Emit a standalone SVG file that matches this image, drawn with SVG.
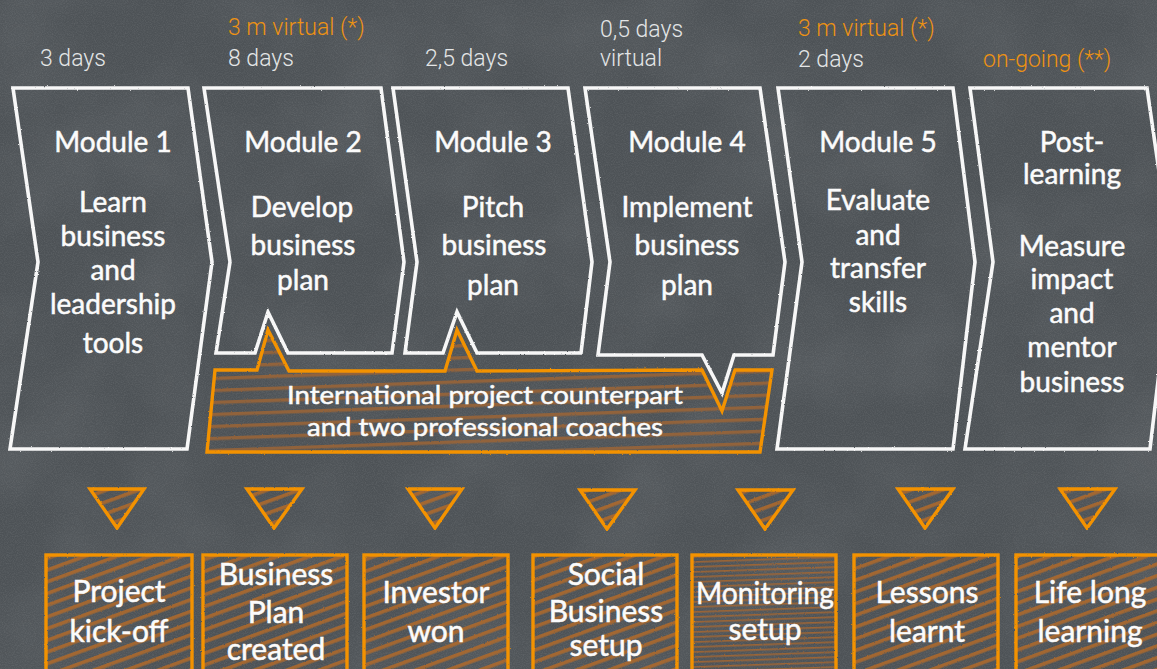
<svg xmlns="http://www.w3.org/2000/svg" width="1157" height="669" viewBox="0 0 1157 669">
<defs>
<style>
.chalk{fill:none;stroke:#f7f7f7;stroke-width:3.6;stroke-linejoin:miter;filter:url(#rough)}
.orng{stroke:#f39200;stroke-width:3.4;stroke-linejoin:miter;filter:url(#rough)}
.mt{font-family:Lato,"Noto Sans",sans-serif;font-size:28px;fill:#fbfbfb;stroke:#fbfbfb;stroke-width:0.5;text-anchor:middle}
.bt{font-family:Lato,"Noto Sans",sans-serif;font-size:30px;fill:#fbfbfb;stroke:#fbfbfb;stroke-width:0.5;text-anchor:middle}
.ct{font-family:Lato,"Noto Sans",sans-serif;font-size:25px;fill:#fbfbfb;stroke:#fbfbfb;stroke-width:0.5;text-anchor:middle}
.lbl{font-family:Roboto,"Liberation Sans",sans-serif;font-size:23px;font-weight:300;fill:#e4e6e7}
.lblo{font-family:Roboto,"Liberation Sans",sans-serif;font-size:23px;font-weight:300;fill:#ee9212}
</style>
<filter id="rough" x="-5%" y="-5%" width="110%" height="110%">
<feTurbulence type="fractalNoise" baseFrequency="0.7" numOctaves="1" seed="4" result="t"/>
<feDisplacementMap in="SourceGraphic" in2="t" scale="2.2" xChannelSelector="R" yChannelSelector="G"/>
</filter>
<filter id="grain" x="0" y="0" width="100%" height="100%">
<feTurbulence type="fractalNoise" baseFrequency="0.9" numOctaves="2" seed="7" result="n"/>
<feColorMatrix in="n" type="matrix" values="0 0 0 0 1  0 0 0 0 1  0 0 0 0 1  0.16 0 0 0 -0.06"/>
</filter>
<filter id="blotch" x="0" y="0" width="100%" height="100%">
<feTurbulence type="fractalNoise" baseFrequency="0.01" numOctaves="3" seed="11" result="b"/>
<feColorMatrix in="b" type="matrix" values="0 0 0 0 0.8  0 0 0 0 0.82  0 0 0 0 0.84  0.12 0 0 0 -0.045"/>
</filter>
<pattern id="diag" width="12" height="11" patternUnits="userSpaceOnUse" patternTransform="rotate(-20)">
<rect x="0" y="0" width="12" height="3.6" fill="#b06a2a" opacity="0.85"/>
</pattern>
<pattern id="horiz" width="20" height="12" patternUnits="userSpaceOnUse" patternTransform="rotate(-2)">
<rect x="0" y="0" width="20" height="3.4" fill="#9c6435" opacity="0.85"/>
</pattern>
<pattern id="fine" width="20" height="5" patternUnits="userSpaceOnUse" patternTransform="rotate(-2)">
<rect x="0" y="0" width="20" height="1.6" fill="#a8682f" opacity="0.85"/>
</pattern>
</defs>

<rect width="1157" height="669" fill="#4d5256"/>
<rect width="1157" height="669" filter="url(#blotch)"/>
<rect width="1157" height="669" filter="url(#grain)"/>

<g id="labels">
<text class="lbl" x="40" y="66">3 days</text>
<text class="lblo" x="228" y="35">3 m virtual (*)</text>
<text class="lbl" x="228" y="66">8 days</text>
<text class="lbl" x="425" y="66">2,5 days</text>
<text class="lbl" x="600" y="37">0,5 days</text>
<text class="lbl" x="600" y="66">virtual</text>
<text class="lblo" x="798" y="36">3 m virtual (*)</text>
<text class="lbl" x="798" y="67">2 days</text>
<text class="lblo" x="983" y="67">on-going (**)</text>
</g>

<g id="callout">
<path d="M215,370 L257,370 L268,330 L289,371 L445,371 L457,330 L477,371 L702,370 L722,411 L735,370 L772,370 L760,452 L207,452 Z" fill="url(#horiz)" class="orng"/>
<text class="ct" x="485" y="404" textLength="396" lengthAdjust="spacingAndGlyphs">International project counterpart</text>
<text class="ct" x="485" y="436" textLength="356" lengthAdjust="spacingAndGlyphs">and two professional coaches</text>
</g>

<g id="module-1">
<path class="chalk" d="M13,88 L188,88 L212,262 L187,449 L10,449 L38,262 Z"/>
<text class="mt" x="113" y="152">Module 1</text>
<text class="mt" x="113" y="212">Learn</text>
<text class="mt" x="113" y="246">business</text>
<text class="mt" x="113" y="280">and</text>
<text class="mt" x="113" y="314">leadership</text>
<text class="mt" x="113" y="353">tools</text>
</g>

<g id="module-2">
<path class="chalk" d="M204,88 L381,88 L404,262 L392,353 L288,353 L268,312 L255,353 L216,353 L230,262 Z"/>
<text class="mt" x="303" y="152">Module 2</text>
<text class="mt" x="302" y="217">Develop</text>
<text class="mt" x="303" y="255">business</text>
<text class="mt" x="303" y="290">plan</text>
</g>

<g id="module-3">
<path class="chalk" d="M393,88 L568,88 L592,262 L581,353 L477,353 L457,312 L443,353 L405,353 L417,262 Z"/>
<text class="mt" x="493" y="152">Module 3</text>
<text class="mt" x="493" y="217">Pitch</text>
<text class="mt" x="494" y="255">business</text>
<text class="mt" x="493" y="295">plan</text>
</g>

<g id="module-4">
<path class="chalk" d="M585,88 L760,88 L785,262 L773,355 L734,355 L722,393 L702,355 L598,355 L610,262 Z"/>
<text class="mt" x="687" y="152">Module 4</text>
<text class="mt" x="687" y="217">Implement</text>
<text class="mt" x="687" y="255">business</text>
<text class="mt" x="687" y="295">plan</text>
</g>

<g id="module-5">
<path class="chalk" d="M778,88 L953,88 L975,262 L953,449 L777,449 L802,262 Z"/>
<text class="mt" x="878" y="152">Module 5</text>
<text class="mt" x="878" y="210">Evaluate</text>
<text class="mt" x="878" y="245">and</text>
<text class="mt" x="878" y="278">transfer</text>
<text class="mt" x="878" y="312">skills</text>
</g>

<g id="post-learning">
<path class="chalk" d="M970,88 L1147,88 L1172,262 L1150,449 L965,449 L993,262 Z"/>
<text class="mt" x="1072" y="152">Post-</text>
<text class="mt" x="1072" y="184">learning</text>
<text class="mt" x="1072" y="256">Measure</text>
<text class="mt" x="1072" y="289">impact</text>
<text class="mt" x="1072" y="323">and</text>
<text class="mt" x="1072" y="357">mentor</text>
<text class="mt" x="1072" y="392">business</text>
</g>

<g id="connectors">
<path class="orng" fill="url(#diag)" d="M90,489 L144,489 L117,528 Z"/>
<path class="orng" fill="url(#diag)" d="M247,489 L302,489 L274,528 Z"/>
<path class="orng" fill="url(#diag)" d="M408,489 L462,489 L435,528 Z"/>
<path class="orng" fill="url(#diag)" d="M580,490 L635,490 L607,529 Z"/>
<path class="orng" fill="url(#diag)" d="M738,490 L793,490 L765,529 Z"/>
<path class="orng" fill="url(#diag)" d="M898,489 L953,489 L925,528 Z"/>
<path class="orng" fill="url(#diag)" d="M1060,489 L1115,489 L1087,528 Z"/>
</g>

<g id="outcome-1">
<rect class="orng" fill="url(#diag)" x="46" y="555" width="146" height="130"/>
<text class="bt" x="119" y="602">Project</text>
<text class="bt" x="119" y="642">kick-off</text>
</g>
<g id="outcome-2">
<rect class="orng" fill="url(#diag)" x="203" y="555" width="144" height="130"/>
<text class="bt" x="276" y="585">Business</text>
<text class="bt" x="276" y="623">Plan</text>
<text class="bt" x="276" y="660">created</text>
</g>
<g id="outcome-3">
<rect class="orng" fill="url(#diag)" x="364" y="555" width="144" height="130"/>
<text class="bt" x="436" y="603">Investor</text>
<text class="bt" x="436" y="642">won</text>
</g>
<g id="outcome-4">
<rect class="orng" fill="url(#diag)" x="533" y="555" width="144" height="130"/>
<text class="bt" x="606" y="585">Social</text>
<text class="bt" x="606" y="622">Business</text>
<text class="bt" x="606" y="656">setup</text>
</g>
<g id="outcome-5">
<rect class="orng" fill="url(#fine)" x="692" y="555" width="144" height="130"/>
<text class="bt" x="765" y="604" textLength="138" lengthAdjust="spacingAndGlyphs">Monitoring</text>
<text class="bt" x="765" y="640">setup</text>
</g>
<g id="outcome-6">
<rect class="orng" fill="url(#diag)" x="854" y="555" width="144" height="130"/>
<text class="bt" x="927" y="603">Lessons</text>
<text class="bt" x="927" y="642">learnt</text>
</g>
<g id="outcome-7">
<rect class="orng" fill="url(#diag)" x="1016" y="555" width="150" height="130"/>
<text class="bt" x="1090" y="603">Life long</text>
<text class="bt" x="1090" y="642">learning</text>
</g>
</svg>
